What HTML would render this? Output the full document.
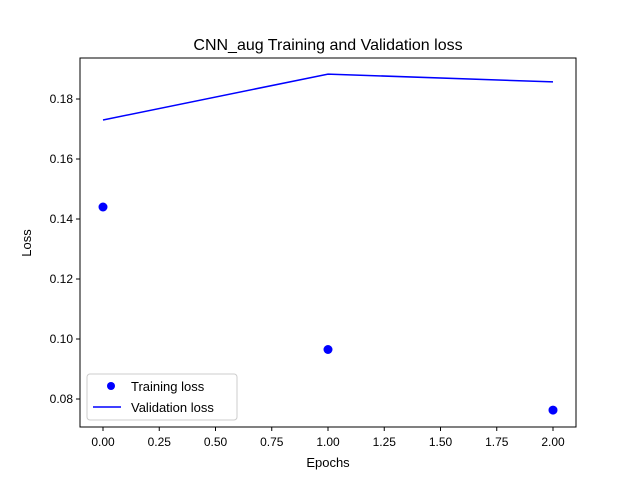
<!DOCTYPE html>
<html><head><meta charset="utf-8"><style>body{margin:0;background:#fff}svg{display:block;font-family:"Liberation Sans","DejaVu Sans",sans-serif}</style></head>
<body>
<svg id="chart" width="640" height="480">
<rect x="0" y="0" width="640" height="480" fill="#fff"/>
<text x="328" y="50" font-size="16" text-anchor="middle">CNN_aug Training and Validation loss</text>
<g id="plot"></g>
<rect x="80" y="58" width="496" height="369" fill="none" stroke="#000" stroke-width="1"/>
<text x="328" y="467" font-size="13" text-anchor="middle">Epochs</text>
<text x="31" y="243" font-size="13" text-anchor="middle" transform="rotate(-90 31 243)">Loss</text>
<g>
<rect x="87" y="374" width="150" height="46" fill="#fff" stroke="#ccc" rx="3"/>
<circle cx="111" cy="386" r="4" fill="#0000ff"/>
<text x="131" y="391" font-size="13">Training loss</text>
<line x1="93" y1="407" x2="121" y2="407" stroke="#0000ff" stroke-width="1.5"/>
<text x="131" y="412" font-size="13">Validation loss</text>
</g>
</svg>
<script>
const epochs=[0,1,2];
const trainLoss=[0.144,0.0965,0.0763];
const valLoss=[0.173,0.1883,0.1857];
const xTicks=["0.00","0.25","0.50","0.75","1.00","1.25","1.50","1.75","2.00"];
const yTicks=["0.08","0.10","0.12","0.14","0.16","0.18"];
const NS="http://www.w3.org/2000/svg";
const g=document.getElementById('plot');
function X(v){return 103+v*225;}
function Y(v){return 399-(v-0.08)*3000;}
function mk(t,a){const e=document.createElementNS(NS,t);for(const k in a)e.setAttribute(k,a[k]);g.appendChild(e);return e;}
xTicks.forEach(s=>{const v=parseFloat(s);
const l=mk('line',{x1:X(v),x2:X(v),y1:427,y2:431,stroke:'#000'});


const t=mk('text',{x:X(v),y:446,'font-size':12,'text-anchor':'middle'});t.textContent=s;

});
yTicks.forEach(s=>{const v=parseFloat(s);
const l=mk('line',{x1:76,x2:80,y1:Y(v),y2:Y(v),stroke:'#000'});


const t=mk('text',{x:73,y:Y(v)+4,'font-size':12,'text-anchor':'end'});t.textContent=s;

});
const p=mk('polyline',{points:epochs.map((e,i)=>X(e)+','+Y(valLoss[i])).join(' '),fill:'none',stroke:'#0000ff','stroke-width':1.5});


epochs.forEach((e,i)=>{const c=mk('circle',{cx:X(e),cy:Y(trainLoss[i]),r:4.5,fill:'#0000ff'});

});
</script>
</body></html>
